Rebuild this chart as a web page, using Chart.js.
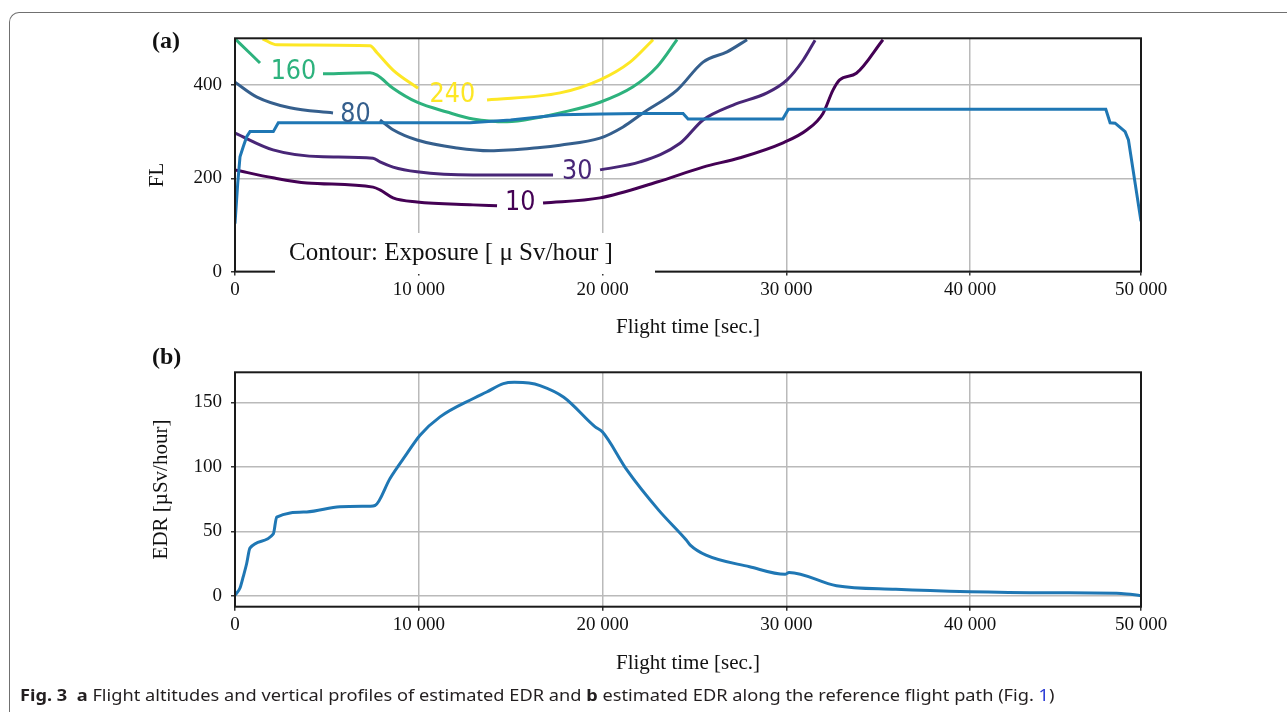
<!DOCTYPE html>
<html lang="en">
<head>
  <meta charset="UTF-8" />
  <title>Fig. 3 Flight altitudes and estimated EDR</title>
  <script src="https://cdn.jsdelivr.net/npm/chart.js"></script>
  <style>
    body { margin: 0; background: #fff; width: 1287px; height: 712px; overflow: hidden; position: relative; }
    .frame { position: absolute; left: 9px; top: 12px; width: 1300px; height: 720px;
             border-top: 1.5px solid #707070; border-left: 1.5px solid #707070; border-top-left-radius: 10px; }
    canvas { position: absolute; left: 0; }
    #chartA { top: 0; }
    #chartB { top: 345px; }
    .panel { position: absolute; left: 152px; font: bold 24px 'Liberation Serif', serif; line-height: 24px; color: #111; }
    #caption { position: absolute; left: 20px; top: 685px; font: 16px 'Noto Sans', sans-serif; line-height: 20px;
               color: #231f20; white-space: nowrap; transform-origin: 0 0; }
    #caption .ref { color: #2b3bd6; }
  </style>
</head>
<body>
  <div class="frame"></div>
  <canvas id="chartA" width="1287" height="345"></canvas>
  <canvas id="chartB" width="1287" height="367"></canvas>
  <div class="panel" style="top:28px">(a)</div>
  <div class="panel" style="top:344px">(b)</div>
  <div id="caption"><b>Fig. 3</b>&nbsp; <b>a</b> Flight altitudes and vertical profiles of estimated EDR and <b>b</b> estimated EDR along the reference flight path (Fig. <span class="ref">1</span>)</div>

  <script>
    // axes
    const xMax = 49300;
    const xTicks = [0, 10000, 20000, 30000, 40000, 49300];
    const xTickLabels = ['0', '10 000', '20 000', '30 000', '40 000', '50 000'];
    const flTicks = [0, 200, 400];
    const edrTicks = [0, 50, 100, 150];

    // (a) flight path
    const flightTime = [0, 150, 272, 452, 637, 816, 2084, 2357, 12789, 15000, 17687, 20000, 22041, 24381, 24653, 29807, 30112, 47385, 47619, 47891, 48163, 48435, 48617, 49300];
    const flightFL   = [103, 190, 246, 268, 289, 300, 300, 319, 319, 325, 336, 338, 339, 339, 327, 327, 348, 348, 319, 318, 309, 300, 282, 108];

    // (a) exposure contours, null = gap for the label
    const c10Time = [0, 2068, 3918, 7510, 7891, 8599, 9905, 12952, 14259, 15500, 16762, 19864, 22966, 25469, 27483, 29823, 31129, 31995, 32539, 32903, 33811, 35258];
    const c10FL   = [218, 201, 190, 181, 175, 158, 149, 143, 141, null, 147, 158, 192, 224, 244, 276, 304, 339, 389, 411, 425, 497];
    const c30Time = [0, 2068, 4789, 7510, 7891, 8599, 9905, 12952, 17306, 18600, 19864, 22041, 24218, 25469, 27102, 28952, 30041, 30912, 31565];
    const c30FL   = [297, 261, 246, 243, 235, 224, 214, 207, 207, null, 218, 235, 275, 325, 357, 383, 411, 453, 496];
    const c80Time = [0, 1197, 2993, 5333, 6500, 7891, 8599, 9905, 12082, 13878, 16599, 17687, 19864, 21116, 22204, 24054, 25469, 26776, 27864];
    const c80FL   = [406, 374, 351, 340, null, 325, 304, 282, 265, 259, 266, 271, 286, 310, 340, 389, 449, 471, 497];
    const c160Time = [0, 816, 1361, 3000, 4789, 7347, 7728, 8599, 9905, 11537, 12952, 14803, 16599, 17687, 19864, 21660, 22966, 24054];
    const c160FL   = [499, 468, 447, null, 424, 426, 421, 393, 363, 342, 327, 321, 331, 340, 363, 396, 439, 497];
    const c240Time = [1500, 2286, 7347, 7728, 8599, 9959, 12000, 13714, 17687, 19864, 21497, 22748];
    const c240FL   = [499, 486, 484, 469, 432, 393, null, 368, 383, 411, 449, 497];

    const contourLevels = ['10', '30', '80', '160', '240'];
    const labelTime = [15525, 18624, 6553, 3181, 11827];
    const labelFL   = [147, 213, 336, 428, 379];

    // (b) EDR along the path
    const edrTime  = [0, 272, 453, 635, 816, 2086, 2268, 3900, 5714, 7347, 7619, 8435, 9342, 10068, 11156, 12970, 13696, 14603, 15200, 16000, 16599, 17890, 19599, 20000, 21333, 23053, 24555, 24773, 25633, 28000, 29932, 30150, 32730, 35960, 40000, 44555, 48218, 49300];
    const edrValue = [0.5, 6, 15, 25, 37, 48, 61, 65, 69, 69.5, 70, 91, 110, 124.5, 138.7, 153, 158, 164.5, 165.5, 165, 163, 154, 131, 127, 97.4, 66.4, 43.2, 39.3, 31.5, 22.5, 16.6, 18.1, 7.8, 5, 3.1, 2.3, 1.8, 0];

    const contourColors = ['#440154', '#482677', '#355f8d', '#2db27d', '#fde725'];
    const blue = '#1f77b4';
    const serif = "'Liberation Serif', 'Times New Roman', serif";
    const pts = (xs, ys) => xs.map((x, i) => ({ x, y: ys[i] }));

    function xScale(h) {
      return {
        type: 'linear', min: 0, max: xMax,
        afterBuildTicks: s => { s.ticks = xTicks.map(v => ({ value: v })); },
        afterFit: s => { s.height = h; s.paddingLeft = 0; s.paddingRight = 0; },
        ticks: { font: { family: serif, size: 19 }, color: '#111', padding: 3, maxRotation: 0, autoSkip: false,
                 callback: (v, i) => xTickLabels[i] },
        grid: { color: '#bababa', lineWidth: 1.5, tickLength: 4, tickColor: '#333' },
        border: { display: false },
        title: { display: true, text: 'Flight time [sec.]', font: { family: serif, size: 21 }, color: '#111', padding: 0 }
      };
    }

    function yScale(min, max, ticks, title) {
      return {
        type: 'linear', min, max,
        afterBuildTicks: s => { s.ticks = ticks.map(v => ({ value: v })); },
        afterFit: s => { s.width = 100; s.paddingTop = 0; s.paddingBottom = 0; },
        ticks: { font: { family: serif, size: 19 }, color: '#111', padding: 9 },
        grid: { color: '#bababa', lineWidth: 1.5, tickLength: 4, tickColor: '#333' },
        border: { display: false },
        title: title ? { display: true, text: title, font: { family: serif, size: 21 }, color: '#111', padding: { top: 14, bottom: 0 } } : { display: false }
      };
    }

    function frame(ctx, a) {
      ctx.strokeStyle = '#1a1a1a';
      ctx.lineWidth = 2;
      ctx.strokeRect(a.left, a.top, a.right - a.left, a.bottom - a.top);
    }

    const panelA = {
      id: 'panelA',
      afterDraw(chart) {
        const { ctx, chartArea: a, scales: { x, y } } = chart;
        ctx.save();
        frame(ctx, a);
        ctx.textAlign = 'center';
        ctx.textBaseline = 'middle';
        contourLevels.forEach((lab, i) => {
          ctx.save();
          ctx.translate(x.getPixelForValue(labelTime[i]), y.getPixelForValue(labelFL[i]));
          ctx.scale(0.92, 1);
          ctx.font = "26px 'DejaVu Sans'";
          ctx.fillStyle = contourColors[i];
          ctx.fillText(lab, 0, 0);
          ctx.restore();
        });
        // white label box over the lower left of the axes
        ctx.fillStyle = '#fff';
        ctx.fillRect(a.left + 40, a.bottom - 38.6, 380, 41);
        ctx.fillStyle = '#111';
        ctx.font = '25px ' + serif;
        ctx.textAlign = 'left';
        ctx.textBaseline = 'alphabetic';
        ctx.fillText('Contour: Exposure [ \u03bc Sv/hour ]', a.left + 54, a.bottom - 11.6);
        // y title
        ctx.translate(157, 175);
        ctx.rotate(-Math.PI / 2);
        ctx.textAlign = 'center';
        ctx.textBaseline = 'middle';
        ctx.font = '21px ' + serif;
        ctx.fillText('FL', 0, 0);
        ctx.restore();
      }
    };

    const panelB = {
      id: 'panelB',
      afterDraw(chart) {
        chart.ctx.save();
        frame(chart.ctx, chart.chartArea);
        chart.ctx.restore();
      }
    };

    const common = {
      responsive: false,
      animation: false,
      events: [],
      plugins: { legend: { display: false }, tooltip: { enabled: false } },
      elements: { point: { radius: 0 } }
    };

    const contourSets = [
      [c10Time, c10FL], [c30Time, c30FL], [c80Time, c80FL], [c160Time, c160FL], [c240Time, c240FL]
    ].map(([t, f], i) => ({
      data: pts(t, f), borderColor: contourColors[i], borderWidth: 3,
      cubicInterpolationMode: 'monotone', spanGaps: false, clip: 0
    }));

    new Chart(document.getElementById('chartA'), {
      type: 'line',
      data: {
        datasets: [
          { data: pts(flightTime, flightFL), borderColor: blue, borderWidth: 3, tension: 0, clip: 0 },
          ...contourSets
        ]
      },
      options: {
        ...common,
        layout: { padding: { left: 135, right: 146, top: 38.3, bottom: 5.4 } },
        scales: { x: xScale(68), y: yScale(0, 500, flTicks, null) }
      },
      plugins: [panelA]
    });

    new Chart(document.getElementById('chartB'), {
      type: 'line',
      data: {
        datasets: [
          { data: pts(edrTime, edrValue), borderColor: blue, borderWidth: 3, cubicInterpolationMode: 'monotone', clip: 0 }
        ]
      },
      options: {
        ...common,
        layout: { padding: { left: 135, right: 146, top: 27.3, bottom: 36.4 } },
        scales: { x: xScale(68.9), y: yScale(-8.5, 173.3, edrTicks, 'EDR [\u00b5Sv/hour]') }
      },
      plugins: [panelB]
    });

    // stretch the caption to the width it has in the figure
    const cap = document.getElementById('caption');
    cap.style.transform = 'scaleX(' + (1035 / cap.offsetWidth) + ')';
  </script>
</body>
</html>
